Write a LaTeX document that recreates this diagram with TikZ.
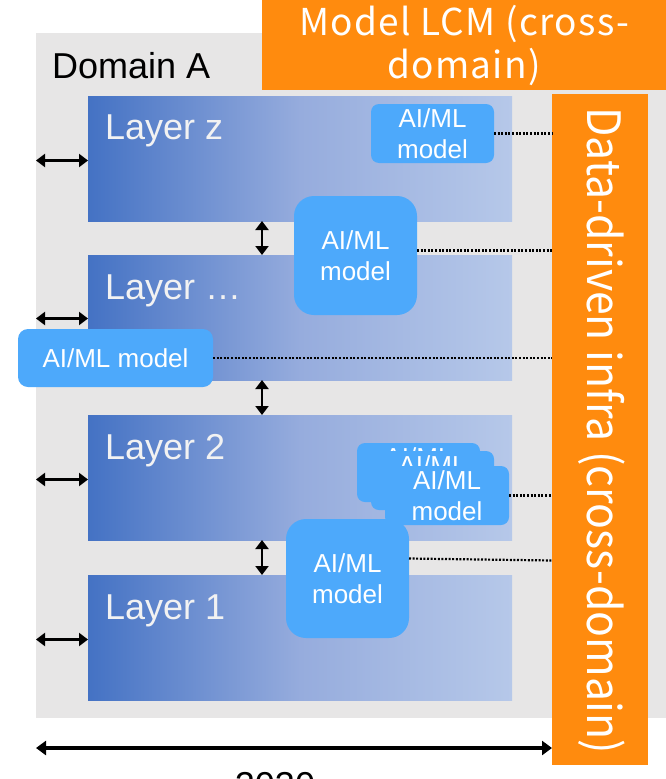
\documentclass[tikz,border=0pt]{standalone}
\usepackage{fontspec}
\setmainfont{Liberation Sans}
\newfontfamily\lcmfont{Noto Sans CJK JP}
\newfontfamily\lcmwidefont[LetterSpace=3.6]{Noto Sans CJK JP}
\usetikzlibrary{arrows.meta}
\definecolor{domgray}{RGB}{231,230,230}
\definecolor{lyrdark}{RGB}{68,114,196}
\definecolor{lyrmid}{RGB}{150,172,221}
\definecolor{lyrlight}{RGB}{182,200,233}
\definecolor{aiblue}{RGB}{77,169,251}
\definecolor{lcmorange}{RGB}{255,139,14}
\definecolor{lyrtext}{RGB}{242,242,242}
\tikzset{
  domainbox/.style={fill=domgray, draw=none, anchor=north west, inner sep=0pt, outer sep=0pt, minimum width=630pt, minimum height=685pt},
  layerbox/.style={anchor=north west, inner sep=0pt, outer sep=0pt, minimum width=424pt, minimum height=125pt, left color=lyrdark, right color=lyrlight, middle color=lyrmid},
  layerlabel/.style={anchor=base west, inner sep=0pt, text=lyrtext, font=\fontsize{36}{43}\selectfont},
  aibox/.style={fill=aiblue, draw=none, text=white, anchor=north west, inner sep=0pt, outer sep=0pt, align=center, font=\fontsize{26}{31.5}\selectfont},
  orangebox/.style={fill=lcmorange, draw=none, text=white, inner sep=0pt, outer sep=0pt, align=center},
  dotline/.style={line width=2.2pt, dash pattern=on 2pt off 1.6pt},
  dblarrow/.style={line width=2.2pt, {Triangle[length=9pt,width=13pt]}-{Triangle[length=9pt,width=13pt]}},
  bigarrow/.style={line width=3.2pt, {Triangle[length=10pt,width=14pt]}-{Triangle[length=10pt,width=14pt]}},
}
\begin{document}
\begin{tikzpicture}[x=1pt,y=-1pt]
\useasboundingbox (0,0) rectangle (666,779);
\clip (0,0) rectangle (666,779);
% domain background
\node[domainbox] (dom) at (36,33) {};
\node[anchor=base west, inner sep=0pt, font=\fontsize{36}{43}\selectfont] (domlbl) at (52,78) {Domain A};
% orange top box
\node[orangebox, anchor=north west, minimum width=404pt, minimum height=90pt, font=\lcmwidefont\fontsize{37}{43}\selectfont] (lcm) at (262,0) {Model LCM (cross-\\domain)};
% layers
\node[layerbox] (lz) at (88,96) {};
\node[layerbox] (lm) at (88,255) {};
\node[layerbox] (l2) at (88,415) {};
\node[layerbox] (l1) at (88,575) {};
\node[layerlabel] (lzt) at (105,139) {Layer z};
\node[layerlabel] (lmt) at (105,299) {Layer …};
\node[layerlabel] (l2t) at (105,459) {Layer 2};
\node[layerlabel] (l1t) at (105,619) {Layer 1};
% orange vertical box
\node[orangebox, anchor=north west, minimum width=96pt, minimum height=671pt] (dd) at (552,94) {};
\node[orangebox, rotate=-90, font=\lcmfont\fontsize{46}{52}\selectfont] (ddt) at ([xshift=2pt,yshift=-1pt]dd.center) {\scalebox{0.93}[1]{Data-driven infra (cross-domain)}};
% AI/ML boxes
\node[aibox, rounded corners=8pt, minimum width=123pt, minimum height=59pt] (m1) at (371,104) {AI/ML\\model};
\node[aibox, rounded corners=20pt, minimum width=123pt, minimum height=119pt] (m2) at (294,196) {AI/ML\\model};
\node[aibox, rounded corners=10pt, minimum width=195pt, minimum height=58pt] (m3) at (18,329) {AI/ML model};
\node[aibox, rounded corners=8pt, minimum width=123pt, minimum height=59pt] (m4a) at (357,443) {AI/ML\\model};
\node[aibox, rounded corners=8pt, minimum width=123pt, minimum height=59pt] (m4b) at (371,451) {AI/ML\\model};
\node[aibox, rounded corners=8pt, minimum width=124pt, minimum height=59pt] (m4) at (385,466) {AI/ML\\model};
\node[aibox, rounded corners=20pt, minimum width=123pt, minimum height=119pt] (m5) at (286,519) {AI/ML\\model};
% dotted links to data-driven infra
\draw[dotline] (m1.east) -- (m1.east -| dd.west);
\draw[dotline] ([yshift=5pt]m2.east) -- ([yshift=5pt]m2.east -| dd.west);
\draw[dotline] (m3.east) -- (m3.east -| dd.west);
\draw[dotline] (m4.east) -- (m4.east -| dd.west);
\draw[dotline] ([yshift=20pt]m5.east) -- ([yshift=18pt]m5.east -| dd.west);
% left arrows
\draw[dblarrow] ([yshift=-2pt]lz.west -| dom.west) -- ([yshift=-2pt]lz.west);
\draw[dblarrow] ([yshift=-1pt]lm.west -| dom.west) -- ([yshift=-1pt]lm.west);
\draw[dblarrow] ([yshift=-2pt]l2.west -| dom.west) -- ([yshift=-2pt]l2.west);
\draw[dblarrow] ([yshift=-2pt]l1.west -| dom.west) -- ([yshift=-2pt]l1.west);
% vertical arrows between layers
\coordinate (ax) at (262,0);
\draw[dblarrow] (ax |- lz.south) -- (ax |- lm.north);
\draw[dblarrow] (ax |- lm.south) -- (ax |- l2.north);
\draw[dblarrow] (ax |- l2.south) -- (ax |- l1.north);
% bottom arrow
\coordinate (b1) at (36,748);
\draw[bigarrow] (b1) -- (b1 -| dd.west);
\node[anchor=base, inner sep=0pt, font=\fontsize{36}{43}\selectfont] (yr) at (275,797) {2030};
\end{tikzpicture}
\end{document}
